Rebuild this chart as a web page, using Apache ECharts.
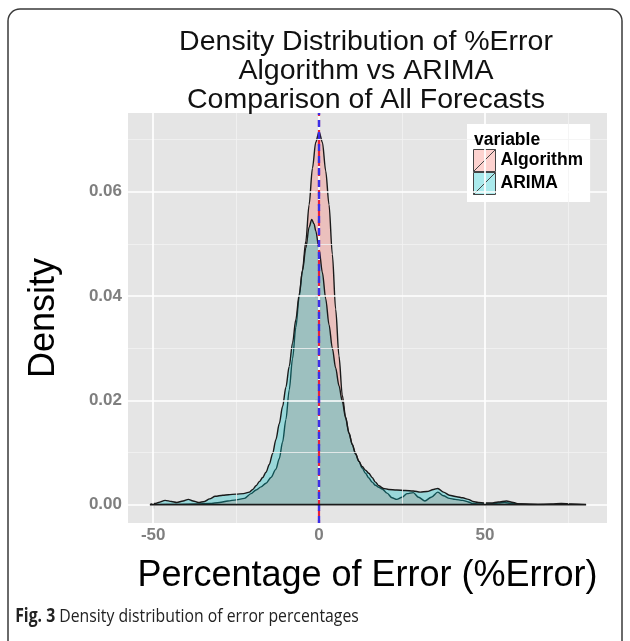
<!DOCTYPE html>
<html><head><meta charset="utf-8">
<script src="https://cdn.jsdelivr.net/npm/echarts@6/dist/echarts.min.js"></script>
<style>html,body{margin:0;padding:0;background:#fff}#c{width:630px;height:641px}</style>
</head><body><div id="c"></div>
<script>
// ---- data ----
const algoX = [-51,-46,-42,-37,-33,-30,-27.5,-25,-22.5,-20.5,-19,-17.5,-16,-14.5,-13,-12,-11,-10,-9,-8,-7,-6,-5,-4,-3,-2,-1,0,1,2,3,4,5,6,7,8,9,10,11,12,13,14,15,16,17,18,19,20.5,22,23.4,25,26.5,28.4,30,31.9,33.8,35.8,37.5,39.3,41,43.3,45,46.4,48,51,54,56,58,61,66,70,73,76,80.5];
const algoY = [0,0.00005,0.00005,0.0001,0.0002,0.0004,0.0007,0.0009,0.0012,0.0021,0.0028,0.0034,0.0041,0.0052,0.0068,0.0088,0.012,0.0163,0.022,0.028,0.034,0.0398,0.045,0.0505,0.0575,0.0645,0.0695,0.0715,0.0695,0.064,0.0575,0.048,0.0375,0.0285,0.021,0.0168,0.0138,0.0116,0.0098,0.0083,0.007,0.006,0.0051,0.0043,0.0037,0.0033,0.003,0.0022,0.0013,0.001,0.0014,0.0021,0.0023,0.0014,0.0007,0.0014,0.0024,0.0017,0.0012,0.001,0.0008,0.0005,0.0002,0.0001,0.0001,0.0003,0.0004,0.0002,0.0001,0.00005,0.0001,0.0002,0.0001,0];
const arimaX = [-51,-49.5,-48.4,-46.4,-44.5,-42.9,-41,-39.4,-38,-36.4,-34.5,-33,-31.3,-29,-27.3,-25,-22.8,-21,-20,-19,-18,-17,-16,-15,-14,-13,-12,-11,-10,-9,-8,-7,-6,-5,-4,-3,-2.2,-1.5,-1,0,1,2,3,4,5,6,7,8,9,10,11,12,13,14,15,16,17,18,19.4,21,23.4,26,28.4,30.5,32.5,34.5,35.8,37.5,39.3,41.5,43.3,45,46.4,48,50,52,54,56.5,58.5,60.5,64,68];
const arimaY = [0,0.0002,0.0004,0.0008,0.0006,0.0004,0.0007,0.001,0.0007,0.0004,0.0006,0.0011,0.0016,0.0018,0.0019,0.002,0.0021,0.0024,0.0029,0.0036,0.0044,0.0052,0.0062,0.0077,0.0098,0.0125,0.0155,0.0188,0.0225,0.0265,0.031,0.0355,0.0403,0.0448,0.0492,0.0532,0.0547,0.0538,0.0525,0.049,0.0445,0.0395,0.0345,0.03,0.0262,0.0228,0.0198,0.0166,0.0137,0.0115,0.0097,0.0083,0.0073,0.0066,0.006,0.0052,0.0043,0.0036,0.0031,0.0029,0.0028,0.0027,0.0026,0.0024,0.0025,0.0029,0.0031,0.0024,0.0018,0.0015,0.0013,0.001,0.0006,0.0004,0.0003,0.0003,0.0005,0.0007,0.0004,0.0001,0.00003,0];
const seriesNames = ['Algorithm', 'ARIMA'];
const xTicks = [-50, 0, 50];
const xMinor = [-25, 25, 75];
const yTicks = [0, 0.02, 0.04, 0.06];
const yMinor = [0.01, 0.03, 0.05, 0.07];
const vlineX = 0;
const baseX = [-51, 80.5];

const algoFill = 'rgba(248,118,109,0.33)';
const arimaFill = 'rgba(0,191,196,0.33)';
const FONT = 'Liberation Sans, Arial, sans-serif';

const pairs = (xs, ys) => xs.map((x, i) => [x, ys[i]]);

const chart = echarts.init(document.getElementById('c'), null, {renderer: 'canvas'});

const gridLines = [];
xMinor.forEach(v => gridLines.push({xAxis: v, lineStyle: {color: '#F2F2F2', width: 0.8, type: 'solid'}}));
yMinor.forEach(v => gridLines.push({yAxis: v, lineStyle: {color: '#F2F2F2', width: 0.8, type: 'solid'}}));
xTicks.forEach(v => gridLines.push({xAxis: v, lineStyle: {color: '#FFFFFF', width: 1.7, type: 'solid'}}));
yTicks.forEach(v => gridLines.push({yAxis: v, lineStyle: {color: '#FFFFFF', width: 1.7, type: 'solid'}}));

const axisLabelStyle = {color: '#7F7F7F', fontSize: 17, fontWeight: 'bold', fontFamily: FONT};
const nameStyle = {color: '#000', fontSize: 36, fontFamily: FONT};

chart.setOption({
  animation: false,
  grid: {left: 128, right: 23, top: 113, bottom: 118, show: true, backgroundColor: '#E5E5E5', borderWidth: 0},
  xAxis: {
    type: 'value', min: -57.6, max: 86.8,
    axisLine: {show: false},
    axisTick: {show: true, length: 4, customValues: xTicks, lineStyle: {color: '#7F7F7F', width: 1.3}},
    axisLabel: Object.assign({customValues: xTicks, margin: 4}, axisLabelStyle),
    splitLine: {show: false},
    name: 'Percentage of Error (%Error)', nameLocation: 'middle', nameGap: 35,
    nameTextStyle: nameStyle
  },
  yAxis: {
    type: 'value', min: -0.00353, max: 0.0751,
    axisLine: {show: false},
    axisTick: {show: true, length: 4, customValues: yTicks, lineStyle: {color: '#7F7F7F', width: 1.3}},
    axisLabel: Object.assign({customValues: yTicks, margin: 6, formatter: v => v.toFixed(2)}, axisLabelStyle),
    splitLine: {show: false},
    name: 'Density', nameLocation: 'middle', nameGap: 66,
    nameTextStyle: nameStyle
  },
  legend: {
    left: 467, top: 124, orient: 'vertical',
    padding: [25, 7, 7, 6], itemGap: 0, itemWidth: 22, itemHeight: 22,
    backgroundColor: '#FFFFFF',
    icon: 'path://M0,0L20,0L20,20L0,20Z M0,20L20,0',
    textStyle: {color: '#000', fontSize: 17.5, fontWeight: 'bold', fontFamily: FONT},
    data: [
      {name: seriesNames[0], itemStyle: {color: algoFill, borderColor: '#444', borderWidth: 1}},
      {name: seriesNames[1], itemStyle: {color: arimaFill, borderColor: '#444', borderWidth: 1}}
    ]
  },
  graphic: [
    {type: 'text', z: 100, x: 366, y: 28, style: {text: 'Density Distribution of %Error\nAlgorithm vs ARIMA\nComparison of All Forecasts', fill: '#111', font: '28.5px ' + FONT, textAlign: 'center', textVerticalAlign: 'top', lineHeight: 29}},
    {type: 'text', z: 100, x: 474, y: 131, style: {text: 'variable', fill: '#000', font: 'bold 17.5px ' + FONT, textVerticalAlign: 'top'}},
    {type: 'rect', z: 100, shape: {x: 8, y: 9, width: 614, height: 690, r: 12}, style: {fill: 'none', stroke: '#3A3A3A', lineWidth: 1.5}},
    {type: 'text', z: 100, x: 13, y: 607, scaleX: 0.83, originX: 13,
      style: {text: '{b|Fig. 3} Density distribution of error percentages', fill: '#222', font: '19px Open Sans, ' + FONT, textVerticalAlign: 'top',
        rich: {b: {fontWeight: 'bold', fontSize: 19, fontFamily: 'Open Sans', fill: '#222'}}}}
  ],
  series: [
    {type: 'line', name: '_grid', data: [], z: 1, silent: true,
      markLine: {symbol: 'none', silent: true, label: {show: false}, data: gridLines}},
    {type: 'line', name: seriesNames[0], data: pairs(algoX, algoY), z: 3, smooth: 0.3, smoothMonotone: 'x',
      showSymbol: false, symbol: 'none', itemStyle: {color: algoFill},
      lineStyle: {color: '#1A1A1A', width: 1.4}, areaStyle: {color: algoFill, opacity: 1}},
    {type: 'line', name: seriesNames[1], data: pairs(arimaX, arimaY), z: 4, smooth: 0.3, smoothMonotone: 'x',
      showSymbol: false, symbol: 'none', itemStyle: {color: arimaFill},
      lineStyle: {color: '#1A1A1A', width: 1.4}, areaStyle: {color: arimaFill, opacity: 1}},
    {type: 'line', name: '_base', data: baseX.map(x => [x, 0]), z: 5, silent: true, showSymbol: false, symbol: 'none',
      lineStyle: {color: '#1A1A1A', width: 1.8},
      markLine: {symbol: 'none', silent: true, label: {show: false}, data: [
        {xAxis: vlineX, lineStyle: {color: '#E8203A', width: 2.2, type: [6, 4], dashOffset: 3}},
        {xAxis: vlineX, lineStyle: {color: '#3A2EE8', width: 2.4, type: [7, 5]}}
      ]}}
  ]
});
</script></body></html>
